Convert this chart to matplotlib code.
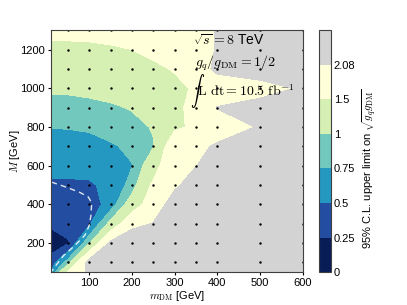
import numpy as np
import matplotlib
matplotlib.use("Agg")
import matplotlib.pyplot as plt
from matplotlib.colors import ListedColormap, BoundaryNorm

plt.rcParams["font.family"] = ["Liberation Sans", "DejaVu Sans"]
plt.rcParams["mathtext.fontset"] = "cm"

# scan grid (GeV)
m_dm = [10, 50, 100, 150, 200, 250, 300, 350, 400, 500, 600]
m_med = [50, 100, 200, 300, 400, 500, 600, 700, 800, 900, 1000, 1100, 1200, 1300]

# 95% CL upper limit on sqrt(gq gDM), one row per mediator mass
limit = [
    [0.50, 1.50, 2.20, 2.60, 2.70, 2.80, 2.80, 2.80, 2.80, 2.80, 2.80],  # 50
    [0.36, 0.85, 2.30, 2.50, 2.60, 2.70, 2.80, 2.80, 2.80, 2.80, 2.80],  # 100
    [0.10, 0.23, 0.95, 2.20, 2.40, 2.50, 2.60, 2.70, 2.80, 2.80, 2.80],  # 200
    [0.30, 0.32, 0.45, 1.10, 1.95, 2.10, 2.40, 2.50, 2.60, 2.70, 2.80],  # 300
    [0.30, 0.32, 0.38, 0.59, 1.20, 1.80, 2.30, 2.50, 2.60, 2.70, 2.80],  # 400
    [0.47, 0.47, 0.47, 0.56, 0.84, 1.60, 2.00, 2.30, 2.50, 2.60, 2.70],  # 500
    [0.56, 0.56, 0.58, 0.64, 0.74, 1.25, 2.03, 2.07, 2.30, 2.60, 2.70],  # 600
    [0.60, 0.60, 0.62, 0.72, 0.80, 0.98, 1.91, 1.95, 2.15, 2.50, 2.60],  # 700
    [0.76, 0.77, 0.80, 0.85, 0.92, 1.02, 1.40, 1.60, 1.80, 2.12, 2.40],  # 800
    [0.90, 0.90, 0.92, 0.96, 1.02, 1.15, 1.35, 1.70, 2.10, 2.30, 2.50],  # 900
    [1.05, 1.05, 1.08, 1.12, 1.20, 1.30, 1.40, 1.55, 1.75, 1.85, 2.15],  # 1000
    [1.25, 1.25, 1.27, 1.30, 1.35, 1.42, 1.53, 1.80, 2.20, 2.40, 2.60],  # 1100
    [1.40, 1.40, 1.42, 1.45, 1.50, 1.60, 1.75, 1.95, 2.10, 2.60, 2.80],  # 1200
    [1.62, 1.62, 1.62, 1.65, 1.70, 1.75, 1.85, 1.95, 2.10, 2.50, 2.70],  # 1300
]

levels = [0, 0.25, 0.5, 0.75, 1, 1.5, 2.08]
level_labels = ["0", "0.25", "0.5", "0.75", "1", "1.5", "2.08"]

# signal points shown as dots
pts_x = [50, 100, 150, 200, 250, 300, 350, 400, 500, 600]
pts_y = [100, 200, 300, 400, 500, 600, 700, 800, 900, 1000, 1100, 1200, 1300]

# white dashed contour
dash_x = [12, 45, 78, 98, 106, 104, 100, 90, 67, 40, 20, 13]
dash_y = [515, 490, 462, 438, 408, 340, 290, 240, 188, 135, 78, 55]

base = plt.get_cmap("YlGnBu_r")
cmap = ListedColormap([base(i / 5) for i in range(6)])
cmap.set_over("#d3d3d3")
norm = BoundaryNorm(levels, cmap.N)

fig = plt.figure(figsize=(4.07, 3.05), dpi=100)
ax = fig.add_axes([0.1246, 0.108, 0.6192, 0.7927])
cax = fig.add_axes([0.7838, 0.108, 0.0295, 0.7927])

X, Y = np.meshgrid(m_dm, m_med)
cs = ax.contourf(X, Y, np.array(limit), levels=levels, cmap=cmap, norm=norm, extend="max")

PX, PY = np.meshgrid(pts_x, pts_y)
ax.plot(PX.ravel(), PY.ravel(), "k.", markersize=1.5, linestyle="none")
ax.plot(dash_x, dash_y, color="white", lw=1, dashes=(4, 3), alpha=0.85)

ax.set_xlim(10, 600)
ax.set_ylim(50, 1300)
ax.set_xticks([100, 200, 300, 400, 500, 600])
ax.set_yticks([200, 400, 600, 800, 1000, 1200])
ax.tick_params(labelsize=8, direction="out", length=2.5, width=0.8, pad=1.5)
for s in ax.spines.values():
    s.set_color("0.25")
ax.set_xlabel(r"$m_{\rm DM}$ [GeV]", fontsize=8)
ax.set_ylabel(r"$M$ [GeV]", fontsize=8)
ax.xaxis.set_label_coords(0.5, -0.07)
ax.yaxis.set_label_coords(-0.115, 0.5)

ax.text(343, 1243, r"$\sqrt{s}=8$ TeV", fontsize=10, va="center")
ax.text(347, 1130, r"$g_q/g_{\rm DM}=1/2$", fontsize=10, va="center")
ax.text(337, 985, r"$\int\mathrm{L\ dt}=10.5\ \mathrm{fb}^{-1}$", fontsize=10, va="center")

cb = fig.colorbar(cs, cax=cax, extendrect=True, extendfrac="auto")
cb.set_ticks(levels)
cb.set_ticklabels(level_labels)
cb.ax.tick_params(labelsize=8, length=0, pad=2)
cb.outline.set_edgecolor("0.25")
cb.set_label(r"95% C.L. upper limit on $\sqrt{g_q g_{\rm DM}}$", fontsize=8, labelpad=4)

fig.savefig("out.png", dpi=100)
